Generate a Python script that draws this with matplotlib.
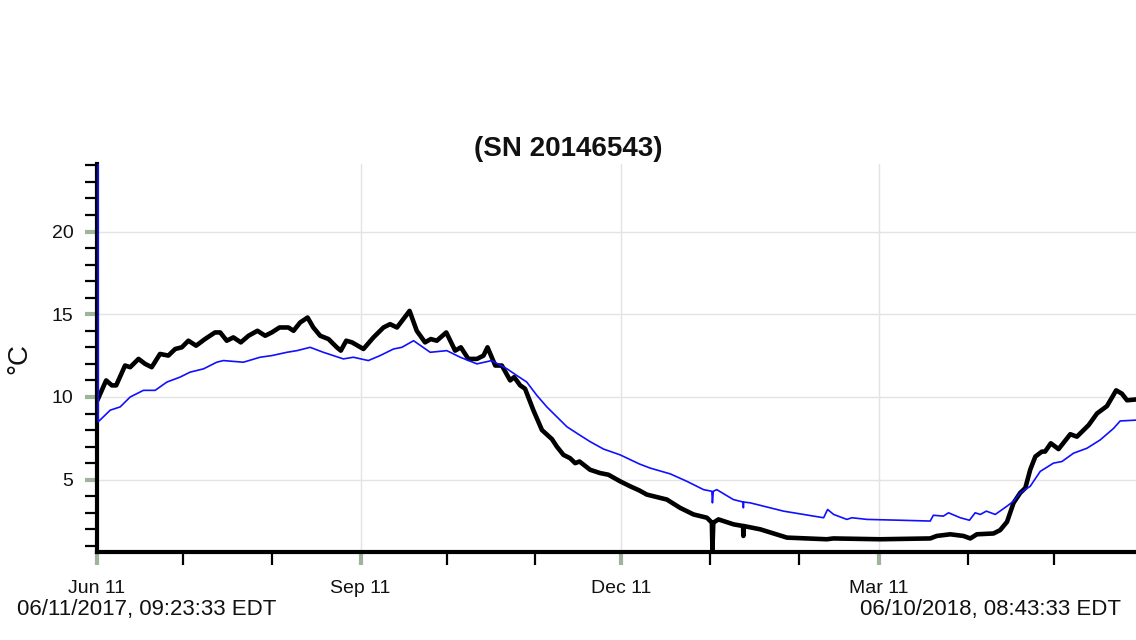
import datetime as dt
import numpy as np
import matplotlib
matplotlib.use("Agg")
import matplotlib.pyplot as plt
import matplotlib.dates as mdates
from matplotlib.ticker import MultipleLocator, FixedLocator

plt.rcParams['font.family'] = ['Liberation Sans', 'DejaVu Sans']

# ---------------- data ----------------
title = "(SN 20146543)"
y_label = "°C"
start_label = "06/11/2017, 09:23:33 EDT"
end_label = "06/10/2018, 08:43:33 EDT"
start_time = dt.datetime(2017, 6, 11, 9, 23, 33)
end_time = dt.datetime(2018, 6, 10, 8, 43, 33)

# days since start_time, temperature (°C)
black_days = [0.0, 2.8, 4.8, 6.3, 9.4, 11.2, 14.1, 16.4, 18.7, 21.6, 24.5, 26.9, 29.2, 31.5,
              34.2, 37.3, 40.8, 42.6, 44.9, 47.2, 49.8, 52.5, 55.6, 58.3, 60.6, 63.3, 66.4,
              68.2, 70.5, 73.1, 75.1, 77.5, 80.4, 83.3, 84.7, 86.6, 88.6, 92.6, 96.1, 99.6,
              101.9, 104.3, 108.7, 111.2, 114.1, 116.1, 118.2, 121.5, 124.6, 126.6, 129.2,
              132.2, 134.5, 135.9, 138.6, 140.9, 143.8, 145.2, 147.3, 149.0, 151.9, 154.9,
              158.4, 160.1, 162.4, 164.7, 166.5, 168.0, 171.7, 175.2, 178.1, 182.2, 185.7,
              188.9, 191.5, 198.5, 203.1, 207.8, 212.5, 214.2, 214.4, 214.7, 216.5, 221.8,
              225.1, 225.2, 225.3, 231.1, 240.4, 254.3, 256.6, 272.9, 290.4, 292.7, 297.4,
              302.0, 304.4, 306.7, 312.5, 314.8, 317.2, 319.5, 321.8, 323.6, 325.3, 327.1,
              329.4, 330.5, 332.5, 335.2, 339.3, 341.6, 345.7, 348.6, 352.1, 355.3, 357.3,
              359.1, 362.3, 364.0]
black_temp = [9.9, 11.0, 10.7, 10.7, 11.9, 11.8, 12.3, 12.0, 11.8, 12.6, 12.5, 12.9, 13.0, 13.4,
              13.1, 13.5, 13.9, 13.9, 13.4, 13.6, 13.3, 13.7, 14.0, 13.7, 13.9, 14.2, 14.2,
              14.0, 14.5, 14.8, 14.2, 13.7, 13.5, 13.0, 12.8, 13.4, 13.3, 12.9, 13.6, 14.2,
              14.4, 14.2, 15.2, 14.0, 13.3, 13.5, 13.4, 13.9, 12.8, 13.0, 12.3,
              12.3, 12.5, 13.0, 11.9, 11.9, 11.0, 11.2, 10.7, 10.5, 9.2, 8.0,
              7.45, 7.0, 6.5, 6.3, 6.0, 6.1, 5.6, 5.4, 5.3, 4.9, 4.6,
              4.35, 4.1, 3.8, 3.3, 2.9, 2.7, 2.4, 0.75, 2.4, 2.6, 2.3,
              2.2, 1.6, 2.2, 2.0, 1.5, 1.4, 1.45, 1.4, 1.45, 1.6, 1.7,
              1.6, 1.45, 1.7, 1.75, 1.95, 2.45, 3.6, 4.2, 4.5, 5.6, 6.4,
              6.7, 6.7, 7.2, 6.85, 7.75, 7.6, 8.3, 9.0, 9.45, 10.4, 10.2,
              9.8, 9.85, 9.9]

blue_days = [0.0, 0.05, 4.2, 7.7, 11.2, 15.8, 19.9, 24.0, 28.6, 32.1, 36.8, 41.4, 43.7, 50.7,
             56.5, 60.6, 65.9, 69.4, 74.0, 78.6, 85.6, 89.1, 94.3, 98.4, 103.1, 106.0, 110.1,
             115.9, 121.7, 126.4, 132.2, 137.4, 142.7, 146.1, 149.6, 153.1, 156.6, 160.1,
             163.6, 167.6, 171.7, 176.4, 182.2, 188.9, 192.7, 199.7, 205.5, 211.3, 214.2,
             214.4, 214.7, 215.9, 221.7, 225.1, 225.2, 225.3, 227.6, 239.2, 253.2, 254.6,
             256.7, 261.3, 263.1, 268.3, 279.9, 290.4, 291.5, 295.0, 296.8, 300.9, 304.1,
             306.1, 307.9, 310.0, 313.1, 317.2, 319.5, 321.8, 325.3, 328.8, 333.4, 336.4,
             340.4, 345.1, 349.7, 354.4, 356.7, 362.3, 364.0]
blue_temp = [25.0, 8.5, 9.2, 9.4, 10.0, 10.4, 10.4, 10.9, 11.2, 11.5, 11.7, 12.1, 12.2, 12.1,
             12.4, 12.5, 12.7, 12.8, 13.0, 12.7, 12.3, 12.4, 12.2, 12.5, 12.9, 13.0, 13.4,
             12.7, 12.8, 12.4, 12.0, 12.2, 11.7, 11.3, 10.9, 10.1, 9.4, 8.8,
             8.2, 7.75, 7.3, 6.85, 6.5, 5.95, 5.7, 5.35, 4.9, 4.4, 4.3,
             3.6, 4.3, 4.4, 3.8, 3.65, 3.3, 3.65, 3.6, 3.1, 2.7, 3.2,
             2.9, 2.6, 2.7, 2.6, 2.55, 2.5, 2.85, 2.8, 3.0, 2.7, 2.55,
             3.0, 2.9, 3.1, 2.9, 3.4, 3.7, 4.2, 4.6, 5.5, 6.0, 6.1,
             6.6, 6.9, 7.4, 8.1, 8.55, 8.6, 8.6]

y_major_ticks = [5, 10, 15, 20]
y_limits = (0.63, 24.08)

# ---------------- figure ----------------
W, H = 1136, 640
fig = plt.figure(figsize=(W / 100, H / 100), dpi=100)
fig.patch.set_facecolor('white')

ax_left_px, ax_right_px = 97, 1141
ax_top_px, ax_bottom_px = 164, 552
ax = fig.add_axes([ax_left_px / W, 1 - ax_bottom_px / H,
                   (ax_right_px - ax_left_px) / W, (ax_bottom_px - ax_top_px) / H])

black_x = [start_time + dt.timedelta(days=d) for d in black_days]
blue_x = [start_time + dt.timedelta(days=d) for d in blue_days]

ax.plot(black_x, black_temp, color='black', lw=3.3, solid_joinstyle='round', zorder=3)
ax.plot(blue_x, blue_temp, color='#1010ff', lw=1.2, zorder=4)

x0 = dt.datetime(start_time.year, start_time.month, start_time.day)
ax.set_xlim(x0, end_time)
ax.set_ylim(*y_limits)

# grid
ax.grid(True, which='major', color='#e3e3e3', lw=1.0)
ax.set_axisbelow(True)

# spines
for s in ['top', 'right']:
    ax.spines[s].set_visible(False)
for s in ['left', 'bottom']:
    ax.spines[s].set_linewidth(3.0)
    ax.spines[s].set_color('black')
    ax.spines[s].set_zorder(2)

tick_green = '#9fb49a'
# y ticks
ax.yaxis.set_major_locator(FixedLocator(y_major_ticks))
ax.yaxis.set_minor_locator(MultipleLocator(1))
ax.tick_params(axis='y', which='major', length=9, width=3, color=tick_green,
               labelsize=14, pad=8, labelcolor='#111111')
ax.tick_params(axis='y', which='minor', length=9, width=1.6, color='black')

# x ticks
ax.xaxis.set_major_locator(mdates.MonthLocator(bymonth=[3, 6, 9, 12], bymonthday=11))
ax.xaxis.set_minor_locator(mdates.MonthLocator(bymonth=[1, 2, 4, 5, 7, 8, 10, 11], bymonthday=11))
ax.xaxis.set_major_formatter(mdates.DateFormatter('%b %d'))
ax.tick_params(axis='x', which='major', length=9, width=3, color=tick_green,
               labelsize=14, pad=11, labelcolor='#111111')
ax.tick_params(axis='x', which='minor', length=9, width=1.6, color='black')

# texts
fig.text(0.5, 1 - 149 / H, title, ha='center', va='center', fontsize=20,
         fontweight='bold', color='#111111')
fig.text(19 / W, 1 - 358 / H, y_label, ha='center', va='center', fontsize=20,
         rotation=90, color='#111111')
fig.text(17 / W, 1 - 609 / H, start_label, ha='left', va='center', fontsize=16,
         color='#111111')
fig.text(1121 / W, 1 - 609 / H, end_label, ha='right', va='center', fontsize=16,
         color='#111111')

fig.savefig('out.png', dpi=100, facecolor='white')
